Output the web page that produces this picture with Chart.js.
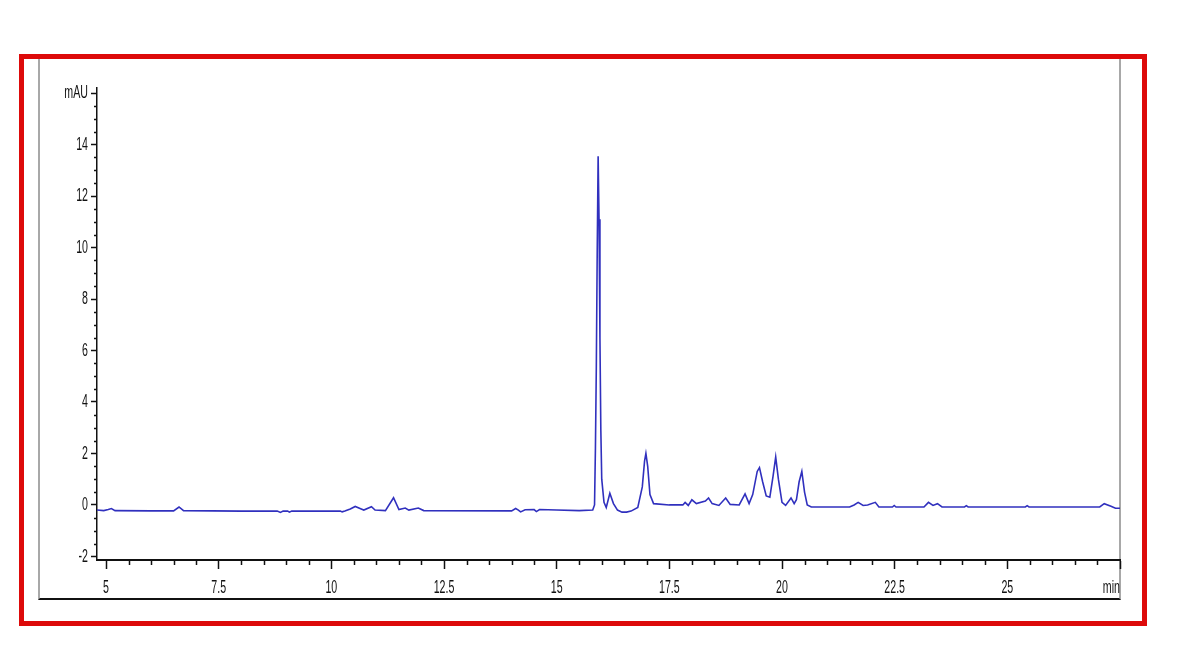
<!DOCTYPE html>
<html>
<head>
<meta charset="utf-8">
<title>Chromatogram</title>
<script src="https://cdn.jsdelivr.net/npm/chart.js@4.4.1/dist/chart.umd.min.js"></script>
<style>
  body { margin: 0; background: #fff; }
  #wrap { position: relative; width: 1202px; height: 655px; overflow: hidden; }
  #redFrame {
    position: absolute; left: 19px; top: 54px; width: 1128px; height: 572px;
    box-sizing: border-box; border: 5px solid #dd0a0a;
  }
  #innerBox {
    position: absolute; left: 38px; top: 59px; width: 1083px; height: 541px;
    box-sizing: border-box; border-left: 2px solid #a8a8a8; border-right: 2px solid #a8a8a8;
    border-bottom: 2px solid #111;
  }
  canvas { position: absolute; left: 0; top: 0; }
</style>
</head>
<body>
<div id="wrap">
  <div id="redFrame"></div>
  <div id="innerBox"></div>
  <canvas id="chromatogram" width="1202" height="655"></canvas>
</div>
<script>
// retention time (min) and detector signal (mAU)
var retentionTimes = [
    4.8, 4.95, 5.05, 5.12, 5.2, 6.0, 6.5, 6.62, 6.72, 8.0,
    8.8, 8.87, 8.93, 9.03, 9.07, 9.12, 10.0, 10.2, 10.24, 10.3,
    10.42, 10.53, 10.65, 10.72, 10.89, 10.97, 11.2, 11.38, 11.5, 11.64,
    11.72, 11.93, 12.05, 14.0, 14.09, 14.15, 14.2, 14.3, 14.5, 14.55,
    14.62, 15.0, 15.5, 15.8, 15.84, 15.86, 15.88, 15.9, 15.92, 15.94,
    15.96, 15.98, 16.0, 16.05, 16.1, 16.18, 16.26, 16.35, 16.45, 16.55,
    16.65, 16.8, 16.9, 16.95, 16.98, 17.02, 17.07, 17.15, 17.5, 17.8,
    17.85, 17.92, 18.0, 18.1, 18.3, 18.37, 18.45, 18.6, 18.75, 18.85,
    19.05, 19.18, 19.27, 19.35, 19.45, 19.5, 19.57, 19.65, 19.73, 19.8,
    19.86, 19.92, 20.0, 20.08, 20.2, 20.27, 20.32, 20.38, 20.44, 20.5,
    20.56, 20.65, 21.5, 21.6, 21.69, 21.8, 21.9, 22.07, 22.15, 22.45,
    22.49, 22.53, 23.15, 23.25, 23.35, 23.45, 23.55, 24.05, 24.09, 24.13,
    25.4, 25.44, 25.48, 27.05, 27.15, 27.3, 27.4, 27.5
];
var signalMAU = [
    -0.2, -0.22, -0.18, -0.14, -0.22, -0.23, -0.23, -0.08, -0.22, -0.24,
    -0.24, -0.29, -0.24, -0.24, -0.28, -0.24, -0.24, -0.24, -0.27, -0.24,
    -0.16, -0.06, -0.15, -0.2, -0.07, -0.2, -0.22, 0.28, -0.18, -0.12,
    -0.2, -0.12, -0.22, -0.23, -0.14, -0.2, -0.27, -0.19, -0.18, -0.26,
    -0.18, -0.2, -0.22, -0.2, 0.0, 2.2, 5.4, 9.9, 13.55, 11.1,
    6.5, 2.9, 1.0, 0.1, -0.1, 0.45, 0.05, -0.2, -0.28, -0.28,
    -0.24, -0.1, 0.7, 1.7, 2.0, 1.5, 0.4, 0.05, 0.0, 0.0,
    0.1, -0.02, 0.2, 0.05, 0.15, 0.27, 0.05, -0.02, 0.27, 0.02,
    0.0, 0.43, 0.05, 0.4, 1.3, 1.45, 0.9, 0.35, 0.3, 1.1,
    1.86, 1.0, 0.1, -0.02, 0.27, 0.05, 0.2, 0.9, 1.3, 0.5,
    0.0, -0.08, -0.08, 0.0, 0.1, -0.02, 0.0, 0.1, -0.08, -0.08,
    -0.02, -0.08, -0.08, 0.1, -0.02, 0.05, -0.08, -0.08, -0.03, -0.08,
    -0.08, -0.03, -0.08, -0.08, 0.05, -0.05, -0.13, -0.13
];

var xTickValues = [5, 7.5, 10, 12.5, 15, 17.5, 20, 22.5, 25, 27.5];
var xTickLabels = ['5', '7.5', '10', '12.5', '15', '17.5', '20', '22.5', '25', 'min'];
var yTickValues = [-2, 0, 2, 4, 6, 8, 10, 12, 14, 16];
var yTickLabels = ['-2', '0', '2', '4', '6', '8', '10', '12', '14', 'mAU'];

var points = retentionTimes.map(function (t, i) {
    return { x: t, y: signalMAU[i] };
});

Chart.defaults.font.family = '"Liberation Sans", Arial, sans-serif';
Chart.defaults.font.size = 19;
Chart.defaults.color = '#111';

// the instrument printout uses a very narrow face: squeeze the labels sideways
var canvas = document.getElementById('chromatogram');
var ctx2d = canvas.getContext('2d');
var plainFillText = ctx2d.fillText;
ctx2d.fillText = function (text, x, y) {
    this.save();
    this.translate(x, y);
    this.scale(0.56, 1);
    if (text === 'min') this.textAlign = 'right';
    plainFillText.call(this, text, 0, 0);
    this.restore();
};

// small minor ticks every 0.5 on both axes
var minorTicks = {
    id: 'minorTicks',
    afterDraw: function (chart) {
        var ctx = chart.ctx;
        var xs = chart.scales.x, ys = chart.scales.y;
        ctx.save();
        ctx.strokeStyle = '#111';
        ctx.lineWidth = 1.5;
        ctx.beginPath();
        for (var v = 5; v < 27.5; v += 0.5) {
            if (xTickValues.indexOf(v) !== -1) continue;
            var px = Math.round(xs.getPixelForValue(v)) + 0.5;
            ctx.moveTo(px, ys.bottom);
            ctx.lineTo(px, ys.bottom + 5);
        }
        for (var w = -2; w <= 16; w += 0.5) {
            if (yTickValues.indexOf(w) !== -1) continue;
            var py = Math.round(ys.getPixelForValue(w)) + 0.5;
            ctx.moveTo(xs.left - 3, py);
            ctx.lineTo(xs.left, py);
        }
        ctx.stroke();
        ctx.restore();
    }
};

new Chart(canvas, {
    type: 'scatter',
    data: {
        datasets: [{
            label: 'DAD signal',
            data: points,
            showLine: true,
            borderColor: 'rgb(48, 48, 190)',
            borderWidth: 1.6,
            pointRadius: 0,
            tension: 0
        }]
    },
    options: {
        responsive: false,
        animation: false,
        devicePixelRatio: 1,
        layout: { padding: { left: 0, right: 82, top: 88, bottom: 0 } },
        plugins: {
            legend: { display: false },
            tooltip: { enabled: false }
        },
        scales: {
            x: {
                type: 'linear',
                min: 4.8,
                max: 27.5,
                afterBuildTicks: function (scale) {
                    scale.ticks = xTickValues.map(function (v) { return { value: v }; });
                },
                afterFit: function (scale) { scale.height = 95; },
                ticks: {
                    padding: 7,
                    maxRotation: 0,
                    autoSkip: false,
                    callback: function (value) {
                        var i = xTickValues.indexOf(value);
                        return i === -1 ? '' : xTickLabels[i];
                    }
                },
                grid: { drawOnChartArea: false, tickLength: 9, color: '#111', tickWidth: 1.5 },
                border: { display: true, color: '#111', width: 2 }
            },
            y: {
                type: 'linear',
                min: -2.14,
                max: 16.2,
                afterBuildTicks: function (scale) {
                    scale.ticks = yTickValues.map(function (v) { return { value: v }; });
                },
                afterFit: function (scale) { scale.width = 97; },
                ticks: {
                    padding: 3,
                    autoSkip: false,
                    callback: function (value) {
                        var i = yTickValues.indexOf(value);
                        return i === -1 ? '' : yTickLabels[i];
                    }
                },
                grid: { drawOnChartArea: false, tickLength: 6, color: '#111', tickWidth: 1.5 },
                border: { display: true, color: '#111', width: 1.5 }
            }
        }
    },
    plugins: [minorTicks]
});
</script>
</body>
</html>
